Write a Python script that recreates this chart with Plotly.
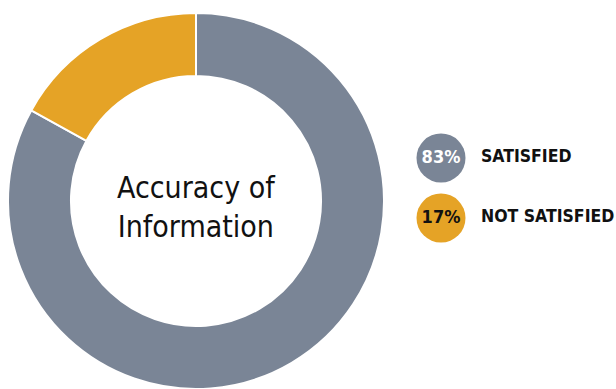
import plotly.graph_objects as go

# Survey result: accuracy of information
categories = ["SATISFIED", "NOT SATISFIED"]
shares = [83, 17]
pct_labels = ["83%", "17%"]
colors = ["#7a8596", "#e5a326"]
pct_font_colors = ["#ffffff", "#111111"]

W, H = 616, 389
FONT = "DejaVu Sans Condensed, Liberation Sans Narrow, Roboto, sans-serif"

fig = go.Figure()

# Donut: satisfied runs clockwise from 12 o'clock, the rest fills back to the top
fig.add_trace(go.Pie(
    labels=categories,
    values=shares,
    hole=0.665,
    sort=False,
    direction="clockwise",
    rotation=0,
    marker=dict(colors=colors, line=dict(color="white", width=2)),
    textinfo="none",
    hoverinfo="label+percent",
    showlegend=False,
    domain=dict(x=[8 / W, 384 / W], y=[0, (H - 13) / H]),
))

# Custom legend: coloured discs carrying the percentage, label to the right
fig.add_trace(go.Scatter(
    x=[441] * len(categories),
    y=categories,
    mode="markers+text",
    marker=dict(size=49, color=colors, line=dict(width=0)),
    text=pct_labels,
    textposition="middle center",
    textfont=dict(family=FONT, size=18, color=pct_font_colors, weight="bold"),
    hoverinfo="skip",
    showlegend=False,
    cliponaxis=False,
))
fig.add_trace(go.Scatter(
    x=[481] * len(categories),
    y=categories,
    mode="text",
    text=categories,
    textposition="middle right",
    textfont=dict(family=FONT, size=17.5, color="#111111", weight="bold"),
    hoverinfo="skip",
    showlegend=False,
    cliponaxis=False,
))

fig.update_layout(
    width=W,
    height=H,
    margin=dict(l=0, r=0, t=0, b=0),
    paper_bgcolor="white",
    plot_bgcolor="rgba(0,0,0,0)",
    xaxis=dict(range=[0, W], visible=False, fixedrange=True),
    yaxis=dict(
        type="category",
        categoryorder="array",
        categoryarray=categories,
        range=[(H - 158) / 60, -158 / 60],
        visible=False,
        fixedrange=True,
    ),
    annotations=[dict(
        text="Accuracy of<br>Information",
        x=196 / W, y=(H - 207) / H,
        xref="paper", yref="paper",
        xanchor="center", yanchor="middle",
        showarrow=False,
        font=dict(family=FONT, size=30, color="#111111"),
        align="center",
    )],
)

fig.write_html("out.html")
